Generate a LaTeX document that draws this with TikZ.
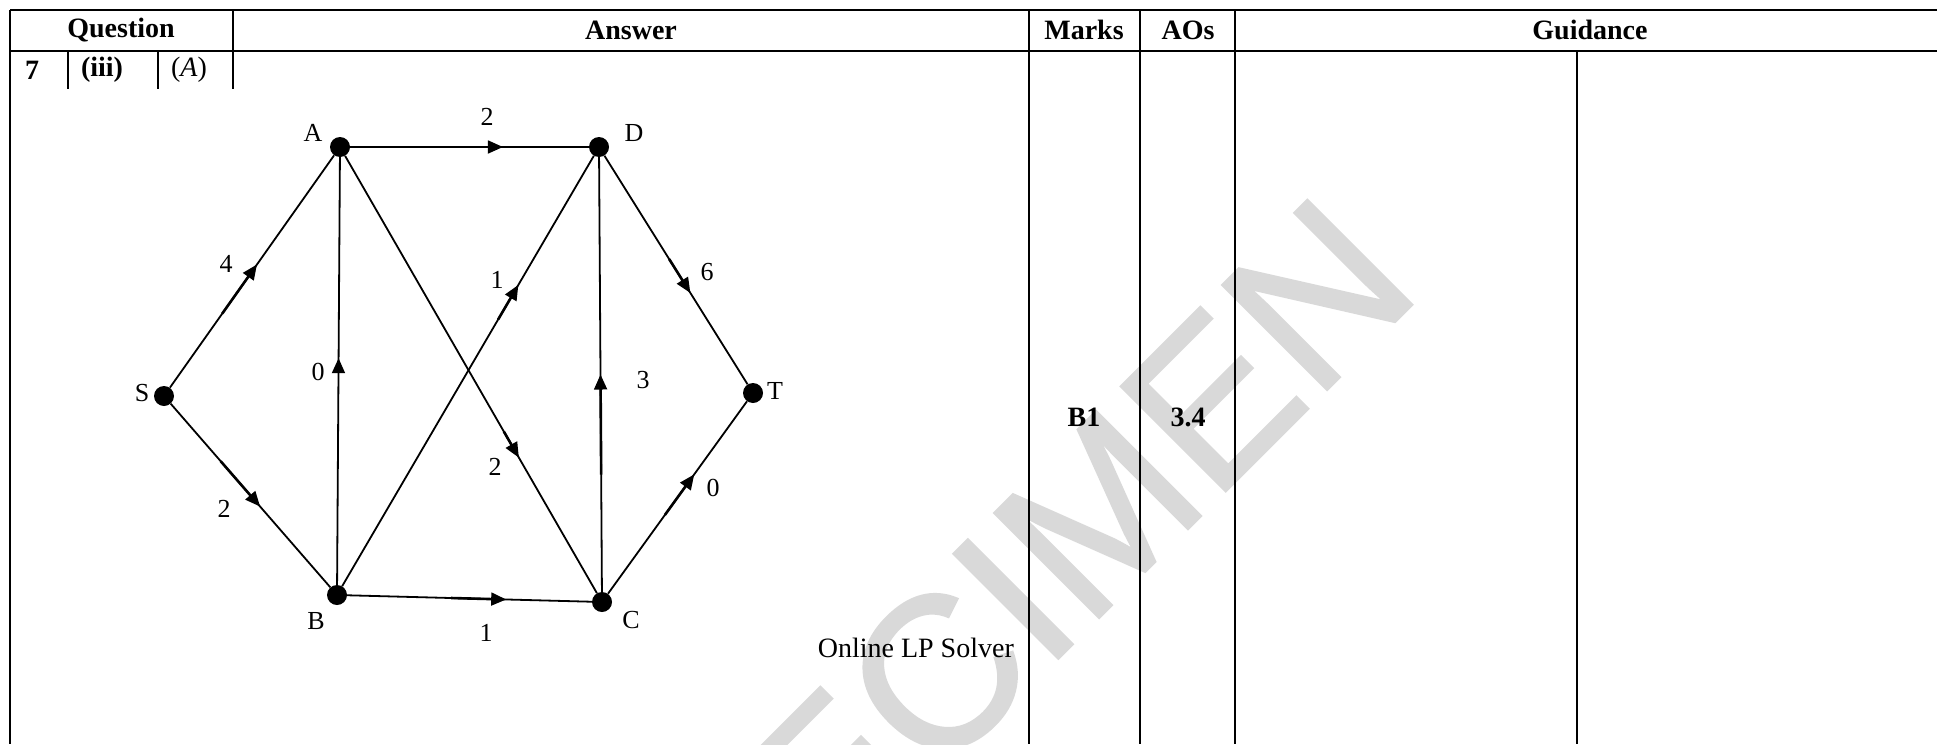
\documentclass[tikz,border=0pt]{standalone}
\usepackage{fontspec}
\setmainfont{Liberation Serif}
\newfontfamily\wmfont[FakeBold=1.2]{Liberation Sans}
\usetikzlibrary{arrows.meta,decorations.markings}
\definecolor{wm}{HTML}{D9D9D9}
\begin{document}
\begin{tikzpicture}[x=1pt,y=-1pt,
  tbl/.style={line width=2.2pt},
  edge/.style={line width=1.8pt},
  vtx/.style={circle,fill=black,inner sep=0pt,minimum size=20pt},
  hdr/.style={font=\fontsize{28}{30}\selectfont\bfseries,inner sep=0pt},
  cell/.style={font=\fontsize{28}{30}\selectfont,inner sep=0pt},
  lbl/.style={font=\fontsize{26}{28}\selectfont,inner sep=0pt},
  midarrow/.style 2 args={postaction={decorate,decoration={markings,
     mark=at position #1 with {\draw[line width=2.6pt,line cap=butt] (-#2pt,0pt) -- (-5pt,0pt);
       \arrow{Triangle[length=15pt,width=13pt]}}}}},
]
\useasboundingbox (0,0) rectangle (1937,744);
% watermark
\node[font=\wmfont\fontsize{215}{215}\selectfont, text=wm, rotate=45, inner sep=0pt] (wmk) at (975,637) {SPECIMEN};
% table frame
\draw[tbl] (10,10) -- (1937,10);
\draw[tbl] (10,51) -- (1937,51);
\draw[tbl] (10,10) -- (10,744);
\draw[tbl] (233,10) -- (233,89);
\draw[tbl] (68,51) -- (68,89);
\draw[tbl] (158,51) -- (158,89);
\draw[tbl] (1029,10) -- (1029,744);
\draw[tbl] (1140,10) -- (1140,744);
\draw[tbl] (1235,10) -- (1235,744);
\draw[tbl] (1577,51) -- (1577,744);
% header texts
\node[hdr] (hq) at (121,30) {Question};
\node[hdr] (ha) at (631,30) {Answer};
\node[hdr] (hm) at (1084,30) {Marks};
\node[hdr] (hao) at (1188,30) {AOs};
\node[hdr] (hg) at (1590,30) {Guidance};
\node[hdr] (q7) at (32,70) {7};
\node[hdr] (qiii) at (102,70) {(iii)};
\node[cell] (qA) at (189,70) {(\textit{A})};
\node[hdr] (mk) at (1084,417) {B1};
\node[hdr] (ao) at (1188,417) {3.4};
\node[cell,anchor=east] (lp) at (1014,648) {Online LP Solver};
% vertices
\node[vtx] (A) at (340,147) {};
\node[vtx] (D) at (599,147) {};
\node[vtx] (S) at (164,396) {};
\node[vtx] (T) at (753,393) {};
\node[vtx] (B) at (337,595) {};
\node[vtx] (C) at (602,602) {};
% vertex labels
\node[lbl] (lA) at (313,133) {A};
\node[lbl] (lD) at (634,133) {D};
\node[lbl] (lS) at (142,393) {S};
\node[lbl] (lT) at (775,391) {T};
\node[lbl] (lB) at (316,621) {B};
\node[lbl] (lC) at (631,620) {C};
% edges
\draw[edge,midarrow={0.53}{60}] (S) -- (A);
\draw[edge,midarrow={0.56}{60}] (S) -- (B);
\draw[edge,midarrow={0.53}{8}] (B) -- (A);
\draw[edge,midarrow={0.64}{70}] (A) -- (D);
\draw[edge,midarrow={0.69}{30}] (A) -- (C);
\draw[edge,midarrow={0.70}{40}] (B) -- (D);
\draw[edge,midarrow={0.65}{55}] (B) -- (C);
\draw[edge,midarrow={0.50}{100}] (C) -- (D);
\draw[edge,midarrow={0.60}{40}] (D) -- (T);
\draw[edge,midarrow={0.62}{50}] (C) -- (T);
% weights
\node[lbl] (w1) at (226,264) {4};
\node[lbl] (w2) at (224,509) {2};
\node[lbl] (w3) at (318,372) {0};
\node[lbl] (w4) at (487,117) {2};
\node[lbl] (w5) at (497,280) {1};
\node[lbl] (w6) at (495,467) {2};
\node[lbl] (w7) at (486,633) {1};
\node[lbl] (w8) at (643,380) {3};
\node[lbl] (w9) at (707,272) {6};
\node[lbl] (w10) at (713,488) {0};
\end{tikzpicture}
\end{document}
